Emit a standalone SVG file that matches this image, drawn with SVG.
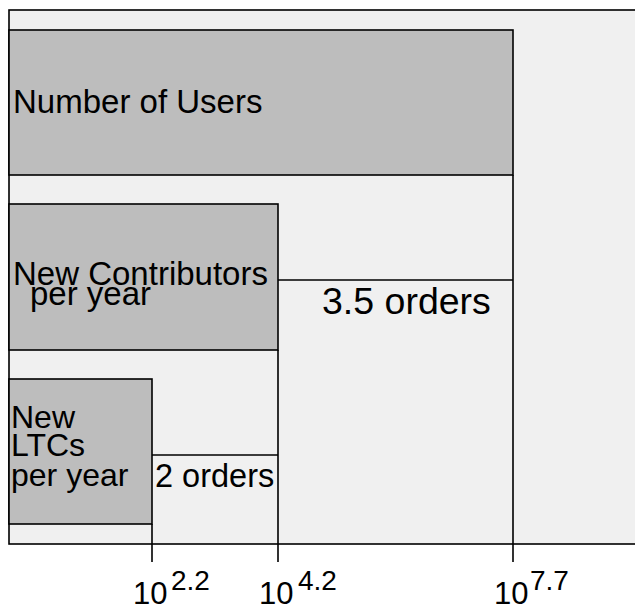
<svg xmlns="http://www.w3.org/2000/svg" width="635" height="609" viewBox="0 0 635 609">
<style>
.bg{fill:#f0f0f0;stroke:#000;stroke-width:1.6}
.box{fill:#bdbdbd;stroke:#000;stroke-width:1.6}
.ln{stroke:#000;stroke-width:1.6;fill:none}
text{font-family:"Liberation Sans",Arial,sans-serif;fill:#000}
</style>
<rect width="635" height="609" fill="#fff"/>
<rect class="bg" x="9" y="10" width="640" height="534"/>
<g id="users">
<rect class="box" x="9" y="30" width="504" height="145"/>
<text x="13" y="113" font-size="33">Number of Users</text>
</g>
<g id="contributors">
<rect class="box" x="9" y="204" width="269" height="146"/>
<text x="13" y="285" font-size="33">New Contributors</text>
<text x="30" y="305" font-size="33">per year</text>
</g>
<g id="ltcs">
<rect class="box" x="9" y="379" width="143" height="145"/>
<text x="11" y="428" font-size="32">New</text>
<text x="11" y="456" font-size="32">LTCs</text>
<text x="11" y="486" font-size="32">per year</text>
</g>
<g id="connectors">
<path class="ln" d="M513 175V562M278 350V562M152 524V562M278 280H513M152 455H278"/>
</g>
<g id="labels">
<text x="322" y="314" font-size="37.5">3.5 orders</text>
<text x="155" y="487" font-size="32.5">2 orders</text>
<text x="133" y="604" font-size="31">10</text><text x="171" y="590" font-size="28">2.2</text>
<text x="259" y="604" font-size="31">10</text><text x="298" y="590" font-size="28">4.2</text>
<text x="494" y="604" font-size="31">10</text><text x="530" y="590" font-size="28">7.7</text>
</g>
</svg>
